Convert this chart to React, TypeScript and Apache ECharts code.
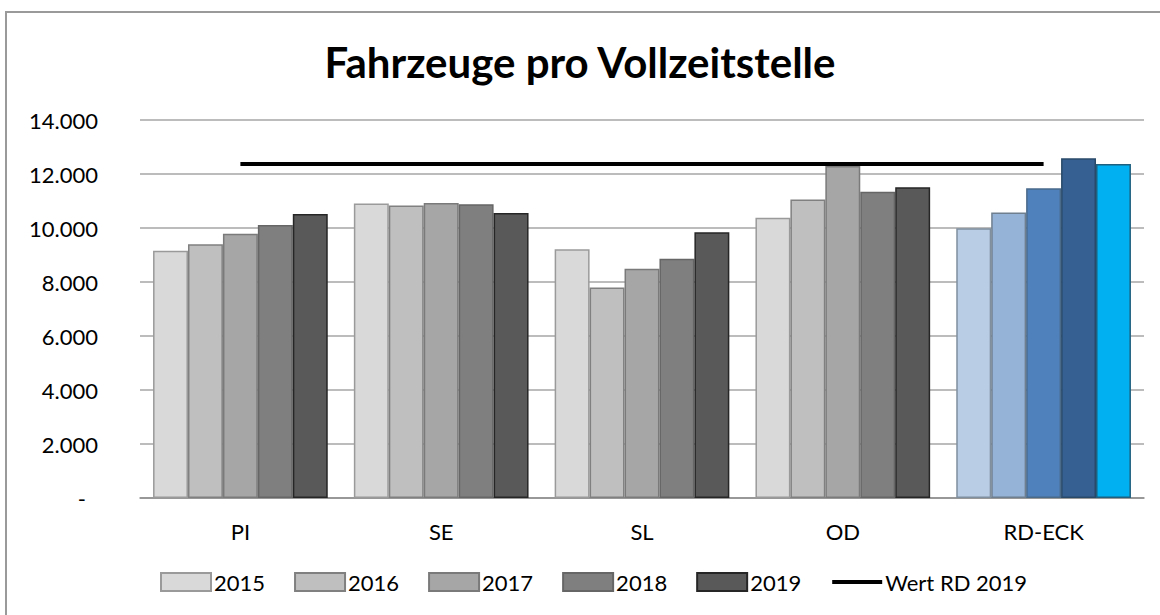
import React, { useEffect, useRef } from "react";
import * as echarts from "echarts";

const categories = ["PI", "SE", "SL", "OD", "RD-ECK"];
const years = ["2015", "2016", "2017", "2018", "2019"];
const values2015 = [9160, 10910, 9210, 10380, 9990];
const values2016 = [9400, 10830, 7800, 11060, 10570];
const values2017 = [9790, 10930, 8490, 12300, 11470];
const values2018 = [10110, 10880, 8860, 11340, 12580];
const values2019 = [10520, 10560, 9840, 11510, 12370];
const wertRD2019 = [12370, 12370, 12370, 12370, 12370];
const yearValues = [values2015, values2016, values2017, values2018, values2019];

const greyColors = ["#D9D9D9", "#BFBFBF", "#A6A6A6", "#7F7F7F", "#595959"];
const greyBorders = ["#9A9A9A", "#808080", "#7A7A7A", "#666666", "#262626"];
const blueColors = ["#B9CDE5", "#95B3D7", "#4F81BD", "#376092", "#00B0F0"];
const blueBorders = ["#7F8F9F", "#6F7F8F", "#4A6A8A", "#2A4A6A", "#1F5F7F"];

const fmt = (v: number) =>
  v === 0 ? "{d|-}" : String(v).replace(/\B(?=(\d{3})+(?!\d))/g, ".");

export default function App() {
  const ref = useRef<HTMLDivElement>(null);
  useEffect(() => {
    if (!ref.current) return;
    const chart = echarts.init(ref.current, undefined, { renderer: "svg" });
    const font = "Lato, 'Open Sans', sans-serif";
    const barSeries = years.map((y, i) => ({
      name: y,
      type: "bar",
      barGap: "0%",
      barCategoryGap: "13%",
      itemStyle: { color: greyColors[i], borderColor: greyBorders[i], borderWidth: 1.5 },
      data: yearValues[i].map((v, ci) =>
        categories[ci] === "RD-ECK"
          ? { value: v, itemStyle: { color: blueColors[i], borderColor: blueBorders[i], borderWidth: 1.5 } }
          : v
      ),
    }));
    chart.setOption({
      animation: false,
      backgroundColor: "#FFFFFF",
      textStyle: { fontFamily: font },
      title: {
        text: "Fahrzeuge pro Vollzeitstelle",
        left: "center",
        top: 36,
        textStyle: { fontFamily: font, fontSize: 42, fontWeight: "bold", color: "#000000" },
      },
      graphic: [
        {
          type: "rect",
          shape: { x: 6, y: 12, width: 1200, height: 700 },
          style: { fill: "none", stroke: "#9A9A9A", lineWidth: 2 },
          z: -1,
        },
      ],
      grid: { left: 140, right: 16, top: 120, bottom: 117 },
      legend: {
        bottom: 17,
        left: 155,
        itemWidth: 50,
        itemHeight: 18,
        itemGap: 29,
        textStyle: { fontFamily: font, fontSize: 22, color: "#000000", padding: [0, 0, 0, -2] },
        data: [
          ...years.map((y) => ({ name: y, icon: "rect" })),
          { name: "Wert RD 2019", itemStyle: { opacity: 0 }, lineStyle: { width: 4 } },
        ],
      },
      xAxis: {
        type: "category",
        data: categories,
        axisLine: { lineStyle: { color: "#8C8C8C", width: 1.5 } },
        axisTick: { show: false },
        axisLabel: { fontFamily: font, fontSize: 22, color: "#000000", margin: 22 },
      },
      yAxis: {
        type: "value",
        min: 0,
        max: 14000,
        interval: 2000,
        axisLine: { show: false },
        axisTick: { show: false },
        splitLine: { lineStyle: { color: "#A6A6A6", width: 1.5 } },
        axisLabel: {
          fontFamily: font,
          fontSize: 22,
          color: "#000000",
          margin: 42,
          formatter: fmt,
          rich: { d: { fontFamily: font, fontSize: 22, color: "#000000", padding: [0, 12, 0, 0] } },
        },
      },
      series: [
        ...barSeries,
        {
          name: "Wert RD 2019",
          type: "line",
          data: wertRD2019,
          symbol: "none",
          lineStyle: { color: "#000000", width: 4 },
          itemStyle: { color: "#000000" },
          z: 5,
        },
      ],
    });
    return () => chart.dispose();
  }, []);
  return (
    <div
      ref={ref}
      style={{ position: "absolute", left: 0, top: 0, width: 1160, height: 615 }}
    />
  );
}
